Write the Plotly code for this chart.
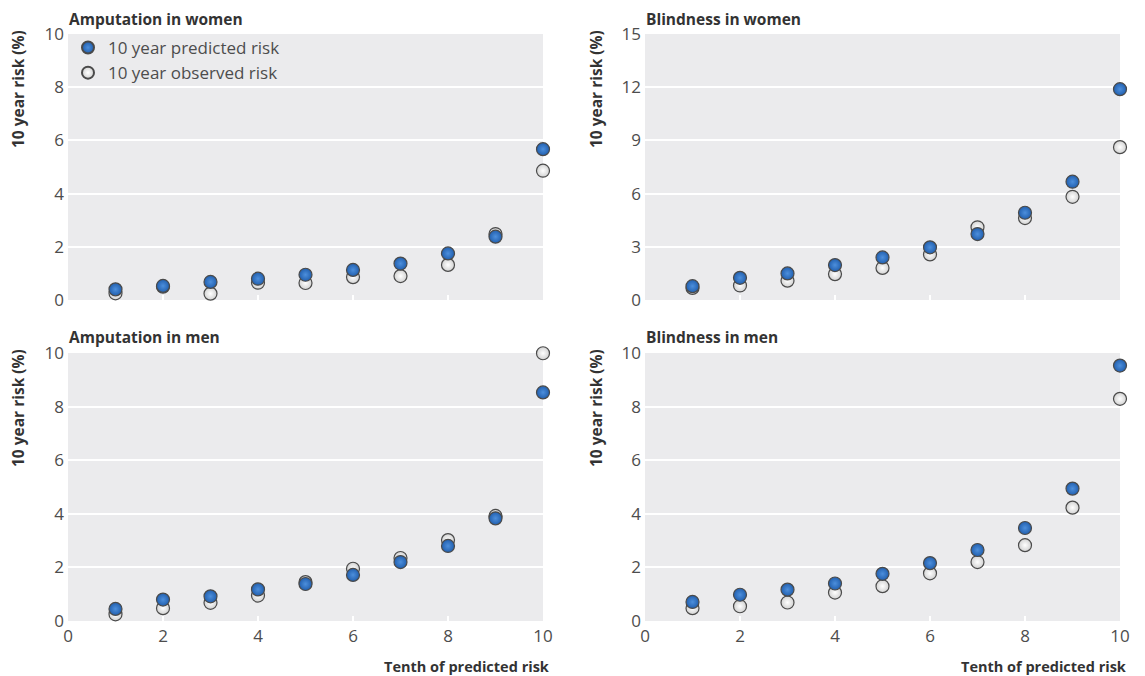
import plotly.graph_objects as go

deciles = [1, 2, 3, 4, 5, 6, 7, 8, 9, 10]

amp_women_pred = [0.40, 0.53, 0.68, 0.80, 0.95, 1.13, 1.37, 1.75, 2.38, 5.67]
amp_women_obs = [0.25, 0.50, 0.24, 0.65, 0.64, 0.86, 0.90, 1.32, 2.48, 4.86]

blind_women_pred = [0.78, 1.25, 1.50, 1.97, 2.40, 2.97, 3.72, 4.92, 6.67, 11.89]
blind_women_obs = [0.68, 0.82, 1.09, 1.46, 1.81, 2.57, 4.10, 4.62, 5.82, 8.62]

amp_men_pred = [0.45, 0.80, 0.92, 1.18, 1.38, 1.72, 2.20, 2.80, 3.83, 8.53]
amp_men_obs = [0.25, 0.48, 0.68, 0.95, 1.45, 1.95, 2.35, 3.02, 3.92, 9.99]

blind_men_pred = [0.71, 0.98, 1.17, 1.40, 1.76, 2.16, 2.65, 3.47, 4.94, 9.53]
blind_men_obs = [0.48, 0.55, 0.69, 1.06, 1.30, 1.78, 2.20, 2.83, 4.23, 8.29]

panel_titles = ["Amputation in women", "Blindness in women", "Amputation in men", "Blindness in men"]
y_ranges = [(0, 10, 2), (0, 15, 3), (0, 10, 2), (0, 10, 2)]
series_names = ["10 year predicted risk", "10 year observed risk"]
x_title = "Tenth of predicted risk"
y_title = "10 year risk (%)"

# the page adds an 8px body margin, so the figure is drawn 8px smaller and
# all layout pixel positions below are given in screen pixels minus that offset
OFF = 8
W, H = 1145 - OFF, 676 - OFF
FONT = "Open Sans"
TXT = "#4d4d4d"
TITLE = "#333333"
BG = "#ebebed"


def px(v):
    return v - OFF


# screen pixel boxes (left, right, top, bottom)
boxes = [(68, 543, 34, 300), (645, 1120, 34, 300), (68, 543, 353, 621), (645, 1120, 353, 621)]
title_y = [18.5, 18.5, 337, 337]
ytitle_x = [18, 596, 18, 596]

fig = go.Figure()
data = [
    (amp_women_pred, amp_women_obs),
    (blind_women_pred, blind_women_obs),
    (amp_men_pred, amp_men_obs),
    (blind_men_pred, blind_men_obs),
]

pred_marker = dict(size=13, color="#215fae", line=dict(color="#4a4a4a", width=1.2),
                   gradient=dict(type="radial", color="#4d8fdc"))
obs_marker = dict(size=13, color="#d2d2d2", line=dict(color="#4a4a4a", width=1.2),
                  gradient=dict(type="radial", color="#ffffff"))

for i, (pred, obs) in enumerate(data):
    xa = "x" if i == 0 else f"x{i+1}"
    ya = "y" if i == 0 else f"y{i+1}"
    fig.add_trace(go.Scatter(x=deciles, y=obs, mode="markers", marker=obs_marker,
                             name=series_names[1], showlegend=False, cliponaxis=False,
                             xaxis=xa, yaxis=ya))
    fig.add_trace(go.Scatter(x=deciles, y=pred, mode="markers", marker=pred_marker,
                             name=series_names[0], showlegend=(i == 0), legendrank=1,
                             cliponaxis=False, xaxis=xa, yaxis=ya))
    if i == 0:
        fig.add_trace(go.Scatter(x=[None], y=[None], mode="markers", marker=obs_marker,
                                 name=series_names[1], showlegend=True, legendrank=2,
                                 xaxis=xa, yaxis=ya))

layout = dict(
    width=W, height=H, margin=dict(l=0, r=0, t=0, b=0, autoexpand=False),
    paper_bgcolor="white", plot_bgcolor=BG,
    font=dict(family=FONT, size=15, color=TXT),
    legend=dict(x=px(68) / W, y=1 - px(30) / H, xanchor="left", yanchor="top",
                bgcolor="rgba(0,0,0,0)", font=dict(size=17, color=TXT),
                itemsizing="constant", tracegroupgap=0, itemwidth=30),
    annotations=[],
)

for i, (l, r, t, b) in enumerate(boxes):
    l, r, t, b = px(l), px(r), px(t), px(b)
    sx = "" if i == 0 else str(i + 1)
    y0, y1, dy = y_ranges[i]
    bottom_row = i >= 2
    layout[f"xaxis{sx}"] = dict(
        domain=[l / W, r / W], range=[0, 10], anchor=f"y{sx}", automargin=False,
        tickvals=[0, 2, 4, 6, 8, 10], showticklabels=bottom_row,
        ticks="inside", ticklen=5, tickcolor="white", tickwidth=2,
        showgrid=False, zeroline=False, showline=False, ticklabelstandoff=3,
        tickfont=dict(size=17, color=TXT),
    )
    layout[f"yaxis{sx}"] = dict(
        domain=[1 - b / H, 1 - t / H], range=[y0, y1], anchor=f"x{sx}", automargin=False,
        tickvals=list(range(y0, y1 + 1, dy)), showgrid=True, gridcolor="white",
        gridwidth=2, zeroline=False, showline=False, ticks="", ticklabelstandoff=3,
        tickfont=dict(size=17, color=TXT),
    )
    layout["annotations"].append(dict(
        text=f"<b>{panel_titles[i]}</b>", x=l / W, y=1 - px(title_y[i]) / H,
        xref="paper", yref="paper", xanchor="left", yanchor="middle", borderpad=0,
        showarrow=False, font=dict(size=15.5, color=TITLE, family=FONT)))
    layout["annotations"].append(dict(
        text=f"<b>{y_title}</b>", x=px(ytitle_x[i]) / W, y=1 - (t - 6) / H,
        xref="paper", yref="paper", xanchor="center", yanchor="top",
        textangle=-90, showarrow=False, font=dict(size=15.5, color=TITLE, family=FONT)))
    if bottom_row:
        layout["annotations"].append(dict(
            text=f"<b>{x_title}</b>", x=(r + 8) / W, y=1 - px(666) / H,
            xref="paper", yref="paper", xanchor="right", yanchor="middle",
            showarrow=False, font=dict(size=14.5, color=TITLE, family=FONT)))

fig.update_layout(**layout)
fig.write_html("out.html")
